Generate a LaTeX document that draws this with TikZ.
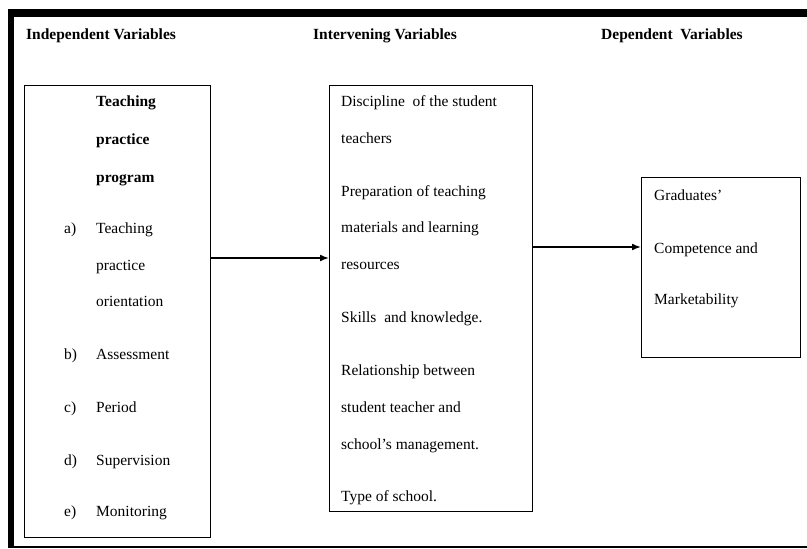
\documentclass[tikz,border=0pt]{standalone}
\usepackage{fontspec}
\setmainfont{Liberation Serif}
\usetikzlibrary{positioning,calc,arrows.meta}
\newcommand*{\txt}{\fontsize{15.5}{18}\selectfont}
\tikzset{
  varbox/.style={draw,line width=1pt,inner sep=0pt,anchor=north west},
  line/.style={anchor=base west,inner sep=0pt,font=\txt},
  head/.style={anchor=base west,inner sep=0pt,font=\txt\bfseries},
  link/.style={line width=1.6pt,-{Latex[length=9pt,width=7pt]}}
}
\begin{document}
\begin{tikzpicture}[x=1pt,y=-1pt]
\useasboundingbox (0,0) rectangle (807,549);
% Frame: heavy top and left rule, thin bottom rule
\fill (8,9) rectangle (807,17);
\fill (8,9) rectangle (14,548);
\fill (8,546) rectangle (807,548);
% Column headings
\node[head] (hind) at (26,39) {Independent Variables};
\node[head] (hint) at (313,39) {Intervening Variables};
\node[head] (hdep) at (601,39) {Dependent~~Variables};
% The three boxes
\node[varbox,minimum width=186pt,minimum height=452pt] (indep) at (24,85) {};
\node[varbox,minimum width=203pt,minimum height=426pt] (interv) at (329,85) {};
\node[varbox,minimum width=159pt,minimum height=180pt] (dep) at (641,177) {};
% Independent variables
\foreach \y/\t [count=\i] in {106/Teaching,144/practice,182/program}
  \node[head] (tp\i) at (96,\y) {\t};
\foreach \y/\l/\t [count=\i] in {233/a)/Teaching,359/b)/Assessment,412/c)/Period,465/d)/Supervision,516/e)/Monitoring}{
  \node[line] (lab\i) at (64,\y) {\l};
  \node[line] (it\i) at (96,\y) {\t};
}
\node[line] (it1b) at (96,270) {practice};
\node[line] (it1c) at (96,306) {orientation};
% Intervening variables
\foreach \y/\t [count=\i] in {106/Discipline~~of the student,143/teachers,196/Preparation of teaching,
    232/materials and learning,269/resources,322/Skills~~and knowledge.,375/Relationship between,
    412/student teacher and,449/school's management.,501/Type of school.}
  \node[line] (iv\i) at (341,\y) {\t};
% Dependent variable
\foreach \y/\t [count=\i] in {200/Graduates',253/Competence and,304/Marketability}
  \node[line] (dv\i) at (654,\y) {\t};
% Arrows between boxes
\coordinate (a1) at (0,258);
\coordinate (a2) at (0,247);
\draw[link] (indep.east |- a1) -- (interv.west |- a1);
\draw[link] (interv.east |- a2) -- (dep.west |- a2);
\end{tikzpicture}
\end{document}
